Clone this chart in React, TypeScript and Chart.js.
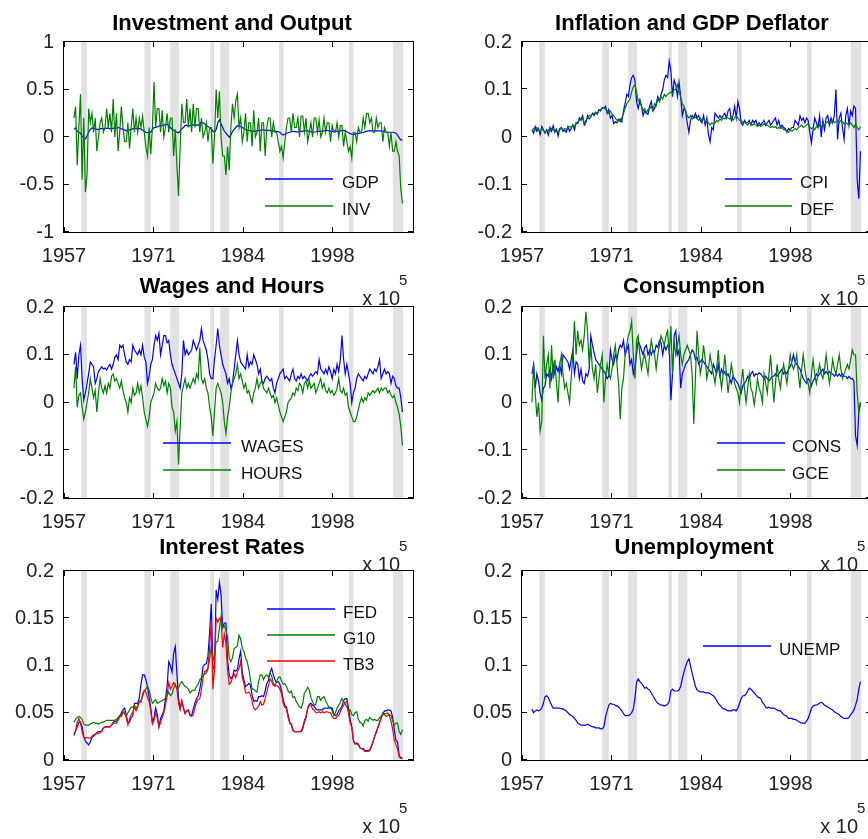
import React, { useEffect, useRef } from "react";
import { Chart, registerables } from "chart.js";

Chart.register(...registerables);

const FONT = '"Liberation Sans", Arial, Helvetica, sans-serif';
const CANVAS_W = 900;
const CANVAS_H = 839;

// x axis in MATLAB datenum units (ticks labelled by year)
const X_MIN = 715000;
const X_MAX = 734500;
const X_TICKS = [715000, 720000, 725000, 730000];
const DATE0 = 715511; // datenum of 1959-01-01
const Q_DAYS = 365.25 / 4;

// NBER recessions (decimal years)
const RECESSIONS = [
  [1960.25, 1961.1], [1969.9, 1970.9], [1973.85, 1975.2], [1980.0, 1980.55],
  [1981.5, 1982.9], [1990.5, 1991.2], [2001.2, 2001.9], [2007.9, 2009.5],
];

// quarterly series, 1959Q1 .. 2009Q2
const GDP = [
  .08,.095,.06,.05, .04,.01,-.01,-.02,
  .01,.05,.08,.095, .09,.085,.08,.08,
  .085,.09,.085,.09, .09,.095,.085,.09,
  .09,.095,.09,.1, .095,.085,.08,.075,
  .065,.07,.075,.08, .085,.09,.09,.085,
  .09,.085,.07,.06, .05,.045,.055,.05,
  .08,.1,.1,.105, .115,.12,.12,.125,
  .13,.135,.12,.1, .08,.07,.06,.05,
  .045,.06,.09,.1, .12,.125,.11,.12,
  .125,.13,.12,.13, .12,.14,.155,.15,
  .14,.12,.11,.1, .09,.06,.05,.08,
  .15,.18,.14,.1, .06,.04,.02,0,
  .02,.06,.08,.1, .12,.115,.11,.1,
  .09,.08,.075,.07, .065,.06,.06,.065,
  .065,.07,.07,.075, .075,.07,.07,.07,
  .07,.065,.065,.06, .06,.055,.05,.03,
  .02,.03,.04,.045, .05,.055,.06,.06,
  .055,.055,.06,.06, .06,.065,.065,.065,
  .06,.055,.05,.05, .055,.06,.06,.06,
  .065,.065,.07,.07, .065,.06,.06,.065,
  .065,.06,.06,.065, .07,.07,.065,.055,
  .045,.035,.03,.025, .03,.035,.035,.04,
  .045,.045,.055,.06, .065,.065,.065,.065,
  .065,.065,.065,.065, .065,.06,.055,.05,
  .05,.05,.05,.05, .045,.04,.02,-.01,
  -.03,-.03,
];
const INV = [
  .2,.32,-.3,.1, .45,-.45,.2,-.58,
  -.4,.3,.15,.25, .05,.2,-.15,0,
  .15,.2,.05,.1, .3,.1,.25,.05,
  .4,0,.25,-.15, .05,.32,.1,-.05,
  -.05,.15,-.12,.1, .3,.05,.2,.05,
  .2,.1,.22,.05, -.1,-.2,.1,-.18,
  .1,.58,.1,.3, .3,.05,.28,0,
  .1,.25,.05,.2, .2,-.2,.08,-.3,
  -.62,-.1,.35,.15, .15,.4,.1,.3,
  .05,.35,.1,.3, .3,.05,.2,0,
  .05,.15,-.05,.1, .1,-.28,0,.5,
  .2,.48,0,-.2, -.2,-.4,-.1,-.35,
  .1,.35,.2,.38, .45,.1,.2,-.05,
  .05,.25,-.05,.15, .15,-.1,.28,0,
  .05,.2,-.15,.15, .15,-.2,.1,.2,
  .2,0,.15,.05, .05,-.05,-.15,-.1,
  -.22,-.05,.1,.2, .2,.05,.25,.1,
  .1,.2,0,.22, .22,.05,.2,-.05,
  .05,.15,0,.2, .2,.05,.18,0,
  .05,.2,.05,.15, .15,-.05,.12,.05,
  .05,.15,0,.12, .12,-.1,.05,-.05,
  -.15,-.1,-.22,.05, .05,-.05,.1,.05,
  .05,.2,.1,.25, .25,.15,.2,.05,
  .05,.2,.1,.15, .15,-.05,.1,.05,
  .05,-.1,.05,-.15, -.15,-.05,-.15,-.2,
  -.55,-.7,
];
const CPI = [
  .015,.008,.022,.012, .018,.005,.022,.015,
  .008,.015,.004,.02, .012,.024,.01,.016,
  .002,.018,.02,.012, .014,.01,.022,.012,
  .018,.026,.015,.03, .028,.04,.035,.045,
  .025,.03,.045,.038, .042,.05,.045,.052,
  .048,.058,.055,.062, .06,.065,.05,.058,
  .04,.045,.028,.032, .03,.035,.038,.032,
  .055,.07,.09,.085, .11,.125,.13,.12,
  .075,.06,.075,.065, .045,.055,.05,.048,
  .065,.075,.055,.06, .07,.085,.075,.09,
  .1,.12,.13,.125, .16,.14,.085,.12,
  .11,.085,.115,.085, .045,.06,.055,.03,
  .01,.035,.045,.04, .05,.04,.045,.035,
  .03,.045,.025,.04, .005,-.01,.02,.015,
  .05,.045,.04,.045, .04,.045,.05,.04,
  .055,.06,.035,.045, .065,.04,.075,.06,
  .03,.025,.035,.03, .03,.035,.025,.035,
  .03,.035,.025,.03, .025,.03,.035,.025,
  .03,.035,.025,.03, .035,.04,.025,.035,
  .02,.025,.02,.018, .01,.018,.015,.02,
  .02,.035,.03,.025, .045,.035,.04,.03,
  .04,.035,.01,-.012, .015,.04,.03,.02,
  .045,0,.035,.015, .04,.045,.025,.04,
  .03,.045,.1,-.005, .04,.05,.02,-.005,
  .045,.06,.025,.055, .045,.065,.06,-.09,
  -.13,-.03,
];
const DEF = [
  .012,.018,.015,.02, .015,.012,.018,.014,
  .01,.012,.015,.012, .018,.014,.016,.012,
  .012,.015,.018,.016, .018,.015,.02,.022,
  .02,.025,.022,.028, .032,.035,.04,.038,
  .03,.035,.04,.045, .045,.048,.05,.052,
  .05,.055,.058,.06, .062,.058,.055,.05,
  .055,.048,.045,.04, .035,.038,.032,.04,
  .05,.06,.07,.075, .08,.095,.105,.11,
  .095,.075,.08,.065, .055,.06,.05,.058,
  .06,.065,.055,.07, .065,.08,.075,.085,
  .08,.09,.085,.09, .092,.095,.09,.1,
  .1,.11,.095,.085, .07,.065,.055,.045,
  .04,.045,.038,.04, .042,.038,.035,.04,
  .035,.038,.032,.035, .03,.025,.03,.028,
  .03,.035,.032,.038, .035,.04,.038,.042,
  .04,.038,.042,.035, .04,.045,.04,.035,
  .035,.03,.032,.028, .025,.03,.028,.025,
  .028,.025,.022,.025, .022,.025,.028,.024,
  .025,.022,.02,.022, .02,.022,.018,.02,
  .018,.02,.016,.015, .012,.01,.015,.012,
  .015,.018,.015,.02, .022,.025,.02,.022,
  .025,.028,.02,.018, .02,.015,.022,.02,
  .025,.02,.028,.025, .03,.032,.028,.03,
  .035,.03,.032,.035, .03,.035,.032,.028,
  .03,.028,.025,.03, .025,.02,.028,.02,
  .015,.022,
];
const WAGES = [
  .08,.105,.05,.1, .12,.05,.005,.02,
  .04,.06,.085,.08, .075,.04,.05,.065,
  .07,.075,.07,.072, .068,.075,.08,.07,
  .08,.095,.1,.09, .12,.115,.12,.1,
  .085,.08,.09,.085, .12,.11,.105,.1,
  .11,.1,.12,.095, .085,.04,.055,.08,
  .09,.12,.14,.13, .145,.1,.12,.14,
  .14,.125,.13,.1, .08,.07,.06,.05,
  .04,.03,.06,.13, .1,.11,.1,.105,
  .11,.13,.12,.11, .12,.13,.155,.13,
  .12,.11,.09,.06, .05,.05,.09,.12,
  .155,.12,.1,.08, .07,.06,.04,.05,
  .03,.04,.07,.1, .13,.1,.085,.08,
  .075,.07,.1,.075, .085,.08,.1,.09,
  .08,.06,.07,.045, .04,.05,.055,.05,
  .045,.05,.03,.02, .04,.05,.06,.065,
  .07,.05,.055,.05, .045,.06,.07,.05,
  .045,.055,.05,.06, .05,.055,.05,.045,
  .055,.06,.055,.06, .065,.06,.09,.07,
  .065,.06,.07,.06, .075,.065,.05,.07,
  .06,.08,.065,.09, .14,.09,.06,.08,
  .06,.04,0,.02, .03,.05,.06,.055,
  .05,.045,.055,.05, .06,.07,.065,.06,
  .07,.065,.075,.09, .05,.06,.07,.06,
  .065,.06,.04,.055, .05,.035,.03,.03,
  .01,-.02,
];
const HOURS = [
  .03,.075,-.01,.015, .02,-.01,-.035,-.02,
  0,.02,.05,.03, .01,.025,-.02,.02,
  .05,.03,.02,.035, .02,.04,.03,.055,
  .06,.045,.05,.04, .03,.045,.025,.01,
  0,-.02,.01,0, .03,.015,.02,.04,
  .02,.035,.01,-.02, -.035,-.05,-.03,0,
  .01,.02,.04,.03, .025,.03,.05,.035,
  .045,.02,.04,.03, -.01,-.02,-.06,-.04,
  -.13,-.05,.02,.035, .05,.03,.04,.03,
  .04,.05,.04,.06, .05,.115,.05,.04,
  .05,.03,.02,-.01, -.03,-.07,-.02,.03,
  .04,.03,.02,0, -.04,-.065,-.03,-.01,
  .02,.04,.05,.06, .08,.05,.06,.045,
  .03,.04,.02,.025, .01,0,.02,.03,
  .05,.03,.04,.045, .03,.025,.02,.03,
  .02,.01,.015,0, .01,-.005,-.02,-.03,
  -.04,-.03,-.02,0, .005,.01,.02,.015,
  .03,.025,.04,.035, .02,.04,.045,.03,
  .045,.03,.035,.04, .02,.03,.04,.05,
  .03,.04,.025,.02, .03,.02,.025,.015,
  .02,.03,.05,.025, .02,.03,.015,.02,
  -.01,-.02,-.03,-.04, -.04,-.03,-.015,0,
  .01,0,.01,.005, .02,.015,.02,.025,
  .02,.025,.03,.02, .03,.025,.03,.03,
  .02,.025,.015,.01, .015,0,-.01,-.025,
  -.05,-.09,
];
const CONS = [
  .06,.08,.03,.06, .045,.02,.005,.03,
  .035,.06,.055,.07, .05,.08,.06,.075,
  .065,.08,.06,.1, .095,.09,.085,.07,
  .09,.11,.06,.085, .08,.05,.07,.045,
  .04,.06,.055,.07, .14,.12,.105,.09,
  .085,.08,.075,.07, .065,.06,.05,.055,
  .11,.09,.08,.1, .09,.11,.12,.115,
  .13,.1,.11,.12, .08,.09,.06,.075,
  .1,.13,.12,.11, .1,.115,.12,.1,
  .11,.1,.11,.105, .12,.115,.13,.125,
  .1,.12,.11,.12, .12,.005,.06,.14,
  .15,.1,.11,.03, .06,.07,.08,.085,
  .09,.1,.11,.105, .09,.095,.08,.085,
  .09,.085,.08,.075, .07,.065,.06,.08,
  .07,.06,.08,.055, .07,.06,.065,.055,
  .06,.05,.04,.055, .05,.045,.04,.03,
  .02,.035,.04,.045, .055,.05,.06,.065,
  .055,.06,.058,.062, .06,.055,.05,.055,
  .05,.045,.05,.055, .055,.06,.055,.06,
  .065,.07,.06,.065, .06,.07,.075,.085,
  .1,.085,.08,.075, .07,.06,.05,.045,
  .04,.05,.045,.035, .045,.05,.06,.055,
  .06,.065,.07,.06, .065,.06,.065,.06,
  .06,.055,.06,.055, .06,.055,.06,.055,
  .055,.05,.055,.05, .05,.045,-.07,-.09,
  -.02,0,
];
const GCE = [
  0,.08,.02,-.03, 0,-.06,-.04,.14,
  .05,.08,.1,.03, .12,.05,.09,.04,
  0,.08,.1,.06, .03,.04,.02,0,
  .05,.1,.17,.1, .15,.12,.13,.11,
  .14,.19,.15,.08, .12,.07,.05,.08,
  .02,.05,.08,.1, 0,.05,.08,.06,
  .05,.07,.1,.12, .08,.04,-.035,.03,
  .05,.1,.12,.14, .15,.17,.1,.05,
  .13,.14,.1,.07, .09,.1,.08,.06,
  .1,.13,.11,.1, .07,.1,.12,.14,
  .13,.12,.14,.15, .1,.16,.06,.13,
  .1,.12,.14,.1, .08,.1,.11,.12,
  .11,.1,.06,-.045, .05,.15,.1,.06,
  .08,.12,.09,.05, .07,.1,.08,.06,
  .04,.07,.11,.06, .03,.06,.1,.06,
  .02,.05,.08,.06, .04,.03,.02,0,
  .04,.07,.03,0, .03,.06,.03,.02,
  -.005,.02,.05,.03, .02,0,.06,.04,
  .02,.06,.1,.05, 0,.04,.08,.05,
  .03,.06,.08,.06, .04,.07,.1,.08,
  .07,.08,.1,.06, .03,.07,.1,.07,
  .05,.04,.02,.06, .09,.06,.04,.06,
  .08,.06,.05,.07, .1,.07,.04,.06,
  .09,.07,.06,.08, .1,.07,.05,.06,
  .07,.08,.07,.09, .11,.1,.1,.02,
  -.02,0,
];
const FED = [
  .026,.031,.035,.04, .04,.035,.025,.02,
  .018,.016,.019,.024, .025,.027,.029,.03,
  .03,.031,.034,.035, .035,.035,.035,.037,
  .04,.041,.041,.043, .046,.05,.053,.055,
  .048,.039,.04,.045, .047,.06,.06,.06,
  .066,.08,.09,.09, .085,.078,.066,.055,
  .04,.045,.055,.048, .035,.044,.048,.052,
  .065,.078,.104,.1, .093,.113,.12,.091,
  .065,.055,.062,.055, .049,.052,.053,.048,
  .047,.054,.06,.065, .068,.075,.085,.099,
  .101,.102,.11,.135, .165,.1,.095,.18,
  .17,.188,.175,.14, .145,.145,.105,.09,
  .086,.088,.095,.094, .096,.107,.115,.093,
  .085,.078,.079,.081, .079,.069,.062,.063,
  .062,.067,.067,.068, .067,.073,.081,.084,
  .093,.097,.09,.085, .082,.083,.08,.074,
  .064,.058,.056,.048, .04,.038,.032,.03,
  .03,.03,.03,.03, .033,.04,.045,.054,
  .059,.06,.058,.057, .054,.053,.053,.053,
  .053,.055,.055,.055, .055,.055,.055,.049,
  .047,.048,.052,.054, .057,.063,.065,.065,
  .055,.043,.035,.021, .017,.018,.017,.013,
  .012,.012,.01,.01, .01,.01,.014,.019,
  .025,.03,.035,.04, .045,.049,.052,.052,
  .053,.053,.052,.045, .032,.021,.019,.005,
  .002,.002,
];
const G10 = [
  .04,.043,.045,.046, .045,.043,.038,.037,
  .037,.037,.038,.039, .04,.039,.039,.038,
  .039,.04,.04,.041, .042,.042,.042,.042,
  .042,.042,.043,.045, .047,.048,.051,.049,
  .046,.05,.053,.056, .056,.058,.054,.058,
  .062,.063,.067,.073, .075,.078,.074,.066,
  .06,.062,.064,.06, .061,.062,.063,.064,
  .066,.068,.072,.068, .07,.076,.08,.075,
  .076,.081,.083,.08, .078,.077,.075,.071,
  .073,.074,.074,.078, .08,.085,.087,.09,
  .091,.092,.096,.107, .12,.105,.112,.125,
  .126,.14,.152,.14, .142,.137,.13,.108,
  .104,.108,.118,.119, .121,.132,.128,.118,
  .115,.108,.104,.096, .085,.075,.075,.073,
  .072,.083,.09,.09, .085,.089,.09,.088,
  .092,.089,.081,.079, .083,.087,.088,.084,
  .08,.081,.078,.073, .071,.073,.066,.067,
  .062,.059,.056,.055, .06,.071,.073,.077,
  .074,.066,.062,.058, .059,.067,.067,.063,
  .066,.067,.063,.059, .056,.056,.052,.047,
  .05,.055,.058,.061, .065,.062,.059,.056,
  .051,.053,.048,.047, .05,.051,.043,.04,
  .039,.036,.042,.043, .041,.045,.043,.042,
  .043,.042,.042,.045, .046,.05,.048,.046,
  .047,.048,.047,.042, .037,.039,.039,.03,
  .027,.032,
];
const TB3 = [
  .028,.031,.04,.044, .039,.03,.024,.023,
  .024,.023,.023,.025, .027,.027,.028,.028,
  .029,.03,.034,.035, .035,.035,.035,.037,
  .039,.039,.039,.042, .046,.046,.05,.051,
  .045,.037,.043,.048, .05,.056,.052,.056,
  .062,.061,.07,.074, .072,.066,.062,.052,
  .038,.042,.05,.044, .035,.04,.045,.05,
  .058,.068,.082,.075, .078,.082,.08,.075,
  .06,.053,.063,.055, .05,.052,.052,.047,
  .046,.048,.055,.061, .064,.065,.075,.087,
  .094,.094,.098,.119, .148,.075,.096,.15,
  .146,.15,.15,.119, .133,.124,.095,.08,
  .082,.087,.091,.087, .093,.097,.104,.087,
  .081,.071,.071,.072, .069,.062,.055,.053,
  .055,.057,.062,.058, .059,.065,.072,.079,
  .086,.083,.079,.078, .079,.078,.075,.07,
  .06,.056,.054,.045, .039,.037,.031,.03,
  .03,.03,.03,.031, .035,.042,.046,.055,
  .058,.058,.054,.053, .05,.05,.051,.05,
  .051,.05,.051,.051, .05,.05,.046,.044,
  .044,.046,.047,.051, .055,.058,.061,.062,
  .049,.039,.035,.02, .017,.017,.016,.013,
  .012,.011,.009,.009, .009,.011,.015,.02,
  .025,.029,.034,.039, .045,.048,.049,.049,
  .05,.047,.041,.033, .021,.016,.012,.003,
  .002,.002,
];
const UNEMP = [
  .054,.05,.052,.053, .052,.053,.055,.06,
  .067,.068,.066,.062, .058,.055,.055,.055,
  .055,.055,.054,.054, .053,.052,.05,.048,
  .047,.046,.044,.042, .039,.038,.037,.037,
  .037,.037,.038,.037, .036,.035,.035,.034,
  .034,.034,.033,.033, .035,.045,.052,.058,
  .06,.059,.059,.058, .057,.056,.054,.052,
  .049,.047,.047,.047, .048,.05,.054,.065,
  .082,.086,.083,.081, .079,.076,.077,.075,
  .074,.071,.068,.065, .062,.06,.059,.058,
  .058,.057,.058,.059, .062,.073,.075,.073,
  .073,.073,.074,.078, .086,.093,.099,.104,
  .107,.1,.092,.085, .078,.074,.073,.072,
  .072,.072,.071,.071, .071,.07,.069,.068,
  .066,.063,.06,.058, .056,.054,.054,.053,
  .052,.052,.052,.053, .053,.052,.055,.06,
  .065,.068,.068,.07, .073,.076,.075,.073,
  .071,.069,.067,.066, .065,.061,.059,.056,
  .055,.056,.055,.055, .055,.054,.053,.052,
  .052,.05,.048,.047, .046,.044,.044,.044,
  .043,.043,.042,.041, .04,.039,.039,.039,
  .041,.044,.049,.055, .057,.058,.058,.059,
  .06,.061,.06,.058, .057,.056,.055,.054,
  .053,.051,.05,.049, .048,.046,.045,.044,
  .044,.044,.045,.048, .05,.053,.058,.064,
  .075,.083,
];

const BLUE = "#0000ff";
const GREEN = "#008000";
const RED = "#ff0000";

const TICKS_PM1 = [-1, -0.5, 0, 0.5, 1];
const TICKS_PM02 = [-0.2, -0.1, 0, 0.1, 0.2];
const TICKS_0_02 = [0, 0.05, 0.1, 0.15, 0.2];

type Series = { label: string; data: number[]; color: string };
type Panel = {
  title: string; titleX: number; titleY: number;
  left: number; right: number; top: number; bottom: number;
  yMin: number; yMax: number; yTicks: number[];
  series: Series[];
  legX1: number; legX2: number; legTextX: number; legY: number[];
};

const PANELS: Panel[] = [
  {
    title: "Investment and Output", titleX: 232, titleY: 30,
    left: 64, right: 413, top: 42, bottom: 232,
    yMin: -1, yMax: 1, yTicks: TICKS_PM1,
    series: [{ label: "GDP", data: GDP, color: BLUE }, { label: "INV", data: INV, color: GREEN }],
    legX1: 265, legX2: 333, legTextX: 342, legY: [179, 206],
  },
  {
    title: "Inflation and GDP Deflator", titleX: 692, titleY: 30,
    left: 522, right: 871, top: 42, bottom: 232,
    yMin: -0.2, yMax: 0.2, yTicks: TICKS_PM02,
    series: [{ label: "CPI", data: CPI, color: BLUE }, { label: "DEF", data: DEF, color: GREEN }],
    legX1: 725, legX2: 792, legTextX: 800, legY: [179, 206],
  },
  {
    title: "Wages and Hours", titleX: 232, titleY: 293,
    left: 64, right: 413, top: 307, bottom: 498,
    yMin: -0.2, yMax: 0.2, yTicks: TICKS_PM02,
    series: [{ label: "WAGES", data: WAGES, color: BLUE }, { label: "HOURS", data: HOURS, color: GREEN }],
    legX1: 163, legX2: 231, legTextX: 241, legY: [443, 470],
  },
  {
    title: "Consumption", titleX: 694, titleY: 293,
    left: 522, right: 871, top: 307, bottom: 498,
    yMin: -0.2, yMax: 0.2, yTicks: TICKS_PM02,
    series: [{ label: "CONS", data: CONS, color: BLUE }, { label: "GCE", data: GCE, color: GREEN }],
    legX1: 717, legX2: 785, legTextX: 792, legY: [443, 470],
  },
  {
    title: "Interest Rates", titleX: 232, titleY: 554,
    left: 64, right: 413, top: 571, bottom: 760,
    yMin: 0, yMax: 0.2, yTicks: TICKS_0_02,
    series: [
      { label: "FED", data: FED, color: BLUE },
      { label: "G10", data: G10, color: GREEN },
      { label: "TB3", data: TB3, color: RED },
    ],
    legX1: 267, legX2: 335, legTextX: 343, legY: [609, 635, 661],
  },
  {
    title: "Unemployment", titleX: 694, titleY: 554,
    left: 522, right: 871, top: 571, bottom: 760,
    yMin: 0, yMax: 0.2, yTicks: TICKS_0_02,
    series: [{ label: "UNEMP", data: UNEMP, color: BLUE }],
    legX1: 703, legX2: 771, legTextX: 779, legY: [646],
  },
];

const yearToDatenum = (y: number) => DATE0 + (y - 1959) * 365.25;
const datenumToYear = (d: number) => new Date((d - 719529) * 86400000).getUTCFullYear();

function makePlugin(p: Panel) {
  return {
    id: "matlabStyle",
    beforeDatasetsDraw(chart: any) {
      const { ctx, chartArea: a, scales } = chart;
      const x = scales.x;
      ctx.save();
      ctx.fillStyle = "#e1e1e1";
      for (const [s, e] of RECESSIONS) {
        const x1 = Math.max(a.left, x.getPixelForValue(yearToDatenum(s)));
        const x2 = Math.min(a.right, x.getPixelForValue(yearToDatenum(e)));
        if (x2 > x1) ctx.fillRect(x1, a.top, x2 - x1, a.bottom - a.top);
      }
      ctx.restore();
    },
    afterDraw(chart: any) {
      const { ctx, chartArea: a, scales } = chart;
      const x = scales.x;
      const y = scales.y;
      ctx.save();
      ctx.setLineDash([]);
      ctx.globalAlpha = 1;
      // axes box
      ctx.strokeStyle = "#000";
      ctx.lineWidth = 1;
      ctx.strokeRect(a.left - 0.5, a.top - 0.5, a.right - a.left + 1, a.bottom - a.top + 1);
      // inward tick marks on all sides
      ctx.beginPath();
      for (const v of X_TICKS) {
        const px = Math.round(x.getPixelForValue(v)) + 0.5;
        ctx.moveTo(px, a.bottom); ctx.lineTo(px, a.bottom - 5);
        ctx.moveTo(px, a.top); ctx.lineTo(px, a.top + 5);
      }
      for (const v of p.yTicks) {
        const py = Math.round(y.getPixelForValue(v)) - 0.5;
        ctx.moveTo(a.left, py); ctx.lineTo(a.left + 5, py);
        ctx.moveTo(a.right, py); ctx.lineTo(a.right - 5, py);
      }
      ctx.stroke();
      ctx.restore();

      // title
      ctx.save();
      ctx.fillStyle = "#000";
      ctx.font = `bold 22px ${FONT}`;
      ctx.textAlign = "center";
      ctx.textBaseline = "alphabetic";
      ctx.fillText(p.title, p.titleX, p.titleY);
      // x exponent label
      ctx.font = `20px ${FONT}`;
      ctx.textAlign = "right";
      ctx.fillStyle = "#222";
      ctx.fillText("x 10", a.right - 13, a.bottom + 73);
      ctx.font = `15px ${FONT}`;
      ctx.textAlign = "left";
      ctx.fillText("5", a.right - 14, a.bottom + 53);
      ctx.restore();

      // legend (lines + labels)
      for (let i = 0; i < p.series.length; i++) {
        const s = p.series[i];
        const ly = p.legY[i];
        ctx.save();
        ctx.setLineDash([]);
        ctx.lineWidth = 1.4;
        ctx.strokeStyle = s.color;
        ctx.beginPath();
        ctx.moveTo(p.legX1, ly);
        ctx.lineTo(p.legX2, ly);
        ctx.stroke();
        ctx.restore();
        ctx.save();
        ctx.fillStyle = "#111";
        ctx.font = `17px ${FONT}`;
        ctx.textAlign = "left";
        ctx.textBaseline = "middle";
        ctx.fillText(s.label, p.legTextX, ly + 4.5);
        ctx.restore();
      }
    },
  };
}

function PanelChart({ panel }: { panel: Panel }) {
  const ref = useRef<HTMLCanvasElement | null>(null);
  useEffect(() => {
    if (!ref.current) return;
    const p = panel;
    const n = p.series.length;
    const chart = new Chart(ref.current, {
      type: "line",
      data: {
        datasets: p.series.map((s, i) => ({
          label: s.label,
          data: s.data.map((v, j) => ({ x: DATE0 + (j + 0.5) * Q_DAYS, y: v })),
          borderColor: s.color,
          backgroundColor: s.color,
          borderWidth: 1.2,
          pointRadius: 0,
          tension: 0,
          fill: false,
          order: n - i,
        })),
      },
      options: {
        responsive: false,
        animation: false,
        devicePixelRatio: 1,
        events: [],
        layout: {
          padding: {
            left: p.left - 60,
            right: CANVAS_W - p.right,
            top: p.top,
            bottom: CANVAS_H - p.bottom - 40,
          },
        },
        plugins: { legend: { display: false }, tooltip: { enabled: false }, title: { display: false } },
        scales: {
          x: {
            type: "linear",
            min: X_MIN,
            max: X_MAX,
            afterBuildTicks: (s: any) => { s.ticks = X_TICKS.map((v) => ({ value: v })); },
            afterFit: (s: any) => { s.height = 40; },
            grid: { display: false, drawTicks: false },
            border: { display: false },
            ticks: {
              padding: 12,
              maxRotation: 0,
              autoSkip: false,
              color: "#222",
              font: { family: FONT, size: 20 },
              callback: (v: any) => String(datenumToYear(Number(v))),
            },
          },
          y: {
            type: "linear",
            min: p.yMin,
            max: p.yMax,
            afterBuildTicks: (s: any) => { s.ticks = p.yTicks.map((v) => ({ value: v })); },
            afterFit: (s: any) => { s.width = 60; },
            grid: { display: false, drawTicks: false },
            border: { display: false },
            ticks: {
              padding: 10,
              autoSkip: false,
              color: "#222",
              font: { family: FONT, size: 20 },
              callback: (v: any) => String(v),
            },
          },
        },
      } as any,
      plugins: [makePlugin(p)],
    });
    return () => chart.destroy();
  }, [panel]);
  return (
    <canvas
      ref={ref}
      width={CANVAS_W}
      height={CANVAS_H}
      style={{ position: "absolute", left: 0, top: 0, width: CANVAS_W, height: CANVAS_H }}
    />
  );
}

export default function App() {
  return (
    <div
      style={{
        position: "fixed", left: 0, top: 0, width: 868, height: 839,
        overflow: "hidden", background: "#fff",
      }}
    >
      {PANELS.map((p) => (
        <PanelChart key={p.title} panel={p} />
      ))}
    </div>
  );
}
